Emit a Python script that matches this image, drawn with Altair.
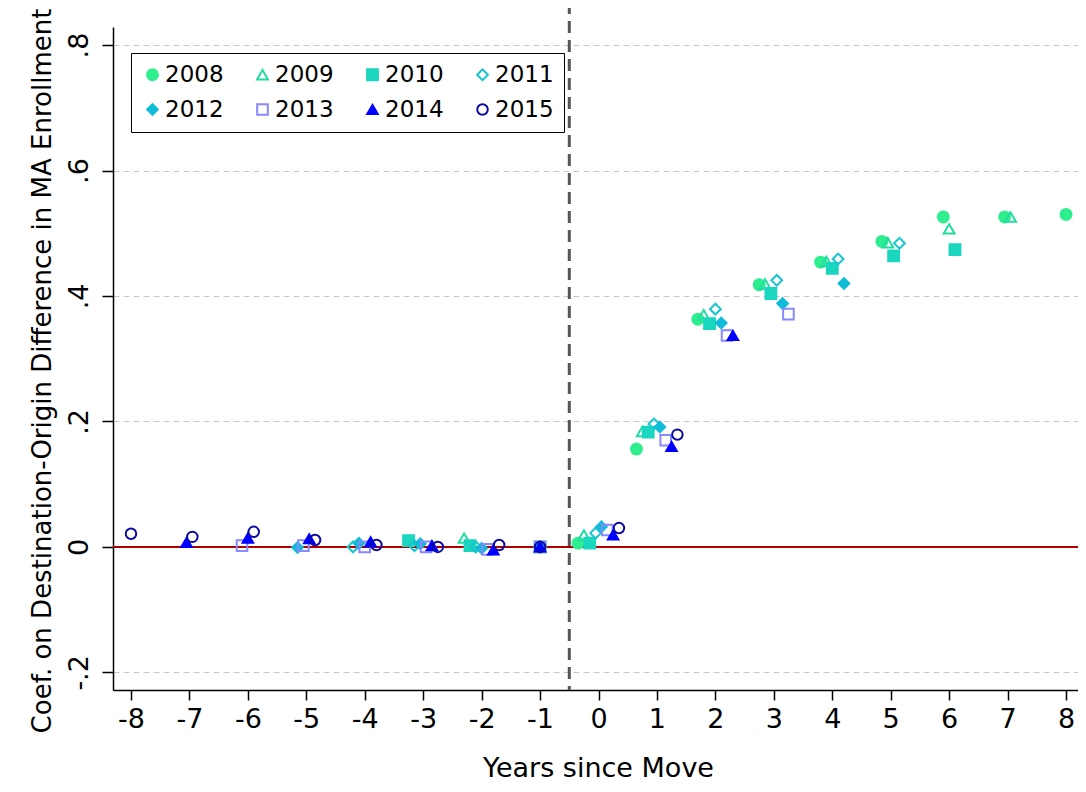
import altair as alt
import pandas as pd

# ---------------- data ----------------
cohorts = ["2008", "2009", "2010", "2011", "2012", "2013", "2014", "2015"]
first_year = 2007  # first calendar year observed

coef_2008 = [0.000, 0.006, 0.156, 0.363, 0.418, 0.454, 0.487, 0.526, 0.526, 0.530]
coef_2009 = [0.014, 0.000, 0.019, 0.184, 0.370, 0.419, 0.455, 0.485, 0.507, 0.526]
coef_2010 = [0.010, 0.002, 0.000, 0.006, 0.183, 0.356, 0.404, 0.444, 0.464, 0.474]
coef_2011 = [0.000, 0.002, 0.000, 0.000, 0.022, 0.196, 0.379, 0.425, 0.459, 0.484]
coef_2012 = [-0.001, 0.006, 0.005, -0.002, 0.000, 0.032, 0.191, 0.357, 0.388, 0.420]
coef_2013 = [0.002, 0.002, 0.000, 0.000, -0.004, 0.000, 0.027, 0.170, 0.337, 0.371]
coef_2014 = [0.007, 0.014, 0.013, 0.008, 0.002, -0.005, 0.000, 0.019, 0.160, 0.337]
coef_2015 = [0.021, 0.016, 0.024, 0.011, 0.003, 0.000, 0.003, 0.000, 0.030, 0.179]
coef_lists = [coef_2008, coef_2009, coef_2010, coef_2011,
              coef_2012, coef_2013, coef_2014, coef_2015]

stroke_colors = ["#2EEE8E", "#22DCA2", "#1AD6BE", "#16C6CE",
                 "#10BCD8", "#8888FF", "#0000FF", "#0A0AA0"]
fill_colors = ["#2EEE8E", "transparent", "#1AD6BE", "transparent",
               "#10BCD8", "transparent", "#0000FF", "transparent"]
shapes = ["circle", "triangle-up", "square", "diamond",
          "diamond", "square", "triangle-up", "circle"]
sizes = [120, 110, 110, 130, 160, 72, 140, 70]

x_ticks = [-8, -7, -6, -5, -4, -3, -2, -1, 0, 1, 2, 3, 4, 5, 6, 7, 8]
x_tick_labels = ["-8", "-7", "-6", "-5", "-4", "-3", "-2", "-1", "0",
                 "1", "2", "3", "4", "5", "6", "7", "8"]
y_ticks = [-0.2, 0.0, 0.2, 0.4, 0.6, 0.8]
y_tick_labels = ["-.2", "0", ".2", ".4", ".6", ".8"]

ref_x = [-0.5]
ref_y = [0.0]
base_period = -1
dodge_step = 0.1

# ---------------- table ----------------
rows = []
for c, vals in zip(cohorts, coef_lists):
    t0 = first_year - int(c)
    for i, v in enumerate(vals):
        rows.append({"cohort": c, "t": t0 + i, "coef": v})
df = pd.DataFrame(rows)
df["n"] = df.groupby("t")["cohort"].transform("count")
df["rank"] = df.groupby("t").cumcount()
df["xpos"] = df["t"] + (df["rank"] - (df["n"] - 1) / 2) * dodge_step
df.loc[df["t"] == base_period, "xpos"] = base_period


def label_expr(vals, labels):
    expr = "''"
    for v, l in reversed(list(zip(vals, labels))):
        expr = f"abs(datum.value - ({v})) < 1e-6 ? '{l}' : ({expr})"
    return expr


W, H = 965, 663
x_scale = alt.Scale(domain=[-8.308, 8.205], nice=False, zero=False)
y_scale = alt.Scale(domain=[-0.2281, 0.8288], nice=False, zero=False)

x_axis = alt.Axis(
    values=x_ticks, labelExpr=label_expr(x_ticks, x_tick_labels),
    title="Years since Move", titleFontSize=27, titleFontWeight="normal",
    titleColor="black", titleX=485, titleY=86, titleAlign="center",
    titleBaseline="alphabetic", titleAnchor="middle",
    labelFontSize=27, labelColor="black", labelPadding=6, labelFlush=False,
    tickSize=10, tickColor="black", tickWidth=1.5,
    domainColor="black", domainWidth=1.5, grid=False, labelOverlap=False,
)
y_axis = alt.Axis(
    values=y_ticks, labelExpr=label_expr(y_ticks, y_tick_labels),
    title="Coef. on Destination-Origin Difference in MA Enrollment",
    titleFontSize=26, titleFontWeight="normal", titleColor="black",
    titleAngle=270, titleX=-63, titleY=343.5, titleAlign="center",
    titleBaseline="alphabetic",
    labelFontSize=27, labelColor="black", labelAngle=270, labelAlign="center",
    labelBaseline="alphabetic", labelPadding=15, labelFlush=False,
    tickSize=11, tickColor="black", tickWidth=1.5,
    domainColor="black", domainWidth=1.5,
    grid=True, gridColor="#C8C8C8", gridDash=[6, 4], gridWidth=1,
    labelOverlap=False,
)

base = alt.Chart(df)

points = base.mark_point(filled=True, opacity=1, strokeWidth=2).encode(
    x=alt.X("xpos:Q", scale=x_scale, axis=x_axis),
    y=alt.Y("coef:Q", scale=y_scale, axis=y_axis),
    stroke=alt.Stroke("cohort:N", scale=alt.Scale(domain=cohorts, range=stroke_colors), legend=None),
    fill=alt.Fill("cohort:N", scale=alt.Scale(domain=cohorts, range=fill_colors),
                  legend=alt.Legend(
                      title=None, orient="none", legendX=18, legendY=26,
                      columns=4, direction="horizontal",
                      labelFontSize=23, labelColor="black", labelOffset=1,
                      padding=10, columnPadding=27, rowPadding=11,
                      strokeColor="black", fillColor="white",
                      symbolStrokeWidth=2)),
    shape=alt.Shape("cohort:N", scale=alt.Scale(domain=cohorts, range=shapes)),
    size=alt.Size("cohort:N", scale=alt.Scale(domain=cohorts, range=sizes)),
    order=alt.Order("cohort:N"),
)

red_line = alt.Chart(pd.DataFrame({"y": ref_y})).mark_rule(
    color="#B00000", strokeWidth=2
).encode(y=alt.Y("y:Q", scale=y_scale))

vline = alt.Chart(pd.DataFrame({"x": ref_x})).mark_rule(
    color="#555555", strokeWidth=3, strokeDash=[12, 7]
).encode(x=alt.X("x:Q", scale=x_scale), y=alt.value(-25), y2=alt.value(H))

chart = alt.layer(red_line, vline, points).properties(
    width=W, height=H,
    padding={"left": 105, "top": 19, "right": 0, "bottom": 94},
    autosize=alt.AutoSizeParams(type="none"),
).configure(font="DejaVu Sans").configure_view(strokeWidth=0)

chart.save("out.html", embed_options={"renderer": "svg", "actions": False})
